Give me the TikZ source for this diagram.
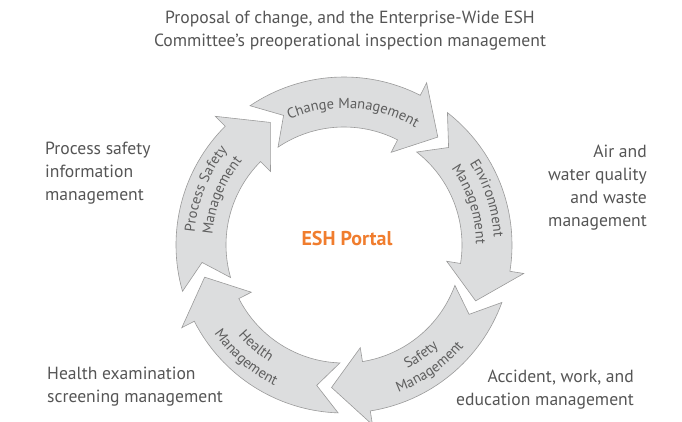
\documentclass[tikz,border=0pt]{standalone}
\usepackage{fontspec}
\setmainfont{PT Sans}
\usetikzlibrary{decorations.text}

\definecolor{ringfill}{HTML}{DCDDDE}
\definecolor{ringline}{HTML}{9A9A9A}
\definecolor{notegray}{HTML}{555555}
\definecolor{labelgray}{HTML}{5E5E5E}
\definecolor{portalorange}{HTML}{F07D2E}

\newcommand{\notefont}{\fontsize{17.6pt}{23pt}\selectfont}
\newcommand{\labelfont}{\fontsize{14.5pt}{17pt}\selectfont}

\tikzset{
  note/.style={font=\notefont, text=notegray, inner sep=0pt},
  ringarrow/.style={fill=ringfill, draw=ringline, line width=0.6pt},
  arclabel/.style={decorate, decoration={text along path, text align=center,
      text color=labelgray, text={|\labelfont|#1}}}
}

\begin{document}
\begin{tikzpicture}
\useasboundingbox (0pt,0pt) rectangle (682pt,-421pt);

% notes round the cycle
\node[note, align=center, anchor=north] (topnote) at (350pt,-11pt)
  {Proposal of change, and the Enterprise-Wide ESH\\Committee’s preoperational inspection management};
\node[note, align=left, anchor=north west] (psnote) at (45pt,-142pt)
  {Process safety\\information\\management};
\node[note, align=right, anchor=north east] (airnote) at (647pt,-145pt)
  {Air and\\water quality\\and waste\\management};
\node[note, align=left, anchor=north west] (healthnote) at (47pt,-367pt)
  {Health examination\\screening management};
\node[note, align=right, anchor=north east] (accnote) at (634pt,-370pt)
  {Accident, work, and\\education management};

\begin{scope}[shift={(344pt,-245pt)}]
  % the five arrows, tail angle given
  \foreach \t in {124,52,-20,-92,-164}
    \draw[ringarrow] (\t:168pt) arc[start angle=\t, end angle=\t-61, radius=168pt]
      -- (\t-61:182pt) -- (\t-75:143pt) -- (\t-61:104pt) -- (\t-61:118pt)
      arc[start angle=\t-61, end angle=\t, radius=118pt] -- (\t-9:143pt) -- cycle;

  % labels on the arrows
  \path[arclabel={Change Management}] (136:137pt) arc[start angle=136, end angle=36, radius=137pt];
  \path[arclabel={Environment}] (68:150pt) arc[start angle=68, end angle=-32, radius=150pt];
  \path[arclabel={Management}] (68:132pt) arc[start angle=68, end angle=-32, radius=132pt];
  \path[arclabel={Safety}] (-105:139pt) arc[start angle=-105, end angle=-5, radius=139pt];
  \path[arclabel={Management}] (-105:157pt) arc[start angle=-105, end angle=-5, radius=157pt];
  \path[arclabel={Health}] (-181:139pt) arc[start angle=-181, end angle=-81, radius=139pt];
  \path[arclabel={Management}] (-181:157pt) arc[start angle=-181, end angle=-81, radius=157pt];
  \path[arclabel={Process Safety}] (208:150pt) arc[start angle=208, end angle=108, radius=150pt];
  \path[arclabel={Management}] (208:132pt) arc[start angle=208, end angle=108, radius=132pt];
\end{scope}

\node[font=\fontsize{20pt}{24pt}\selectfont\bfseries, text=portalorange] (portal) at (347pt,-238pt) {ESH Portal};
\end{tikzpicture}
\end{document}
